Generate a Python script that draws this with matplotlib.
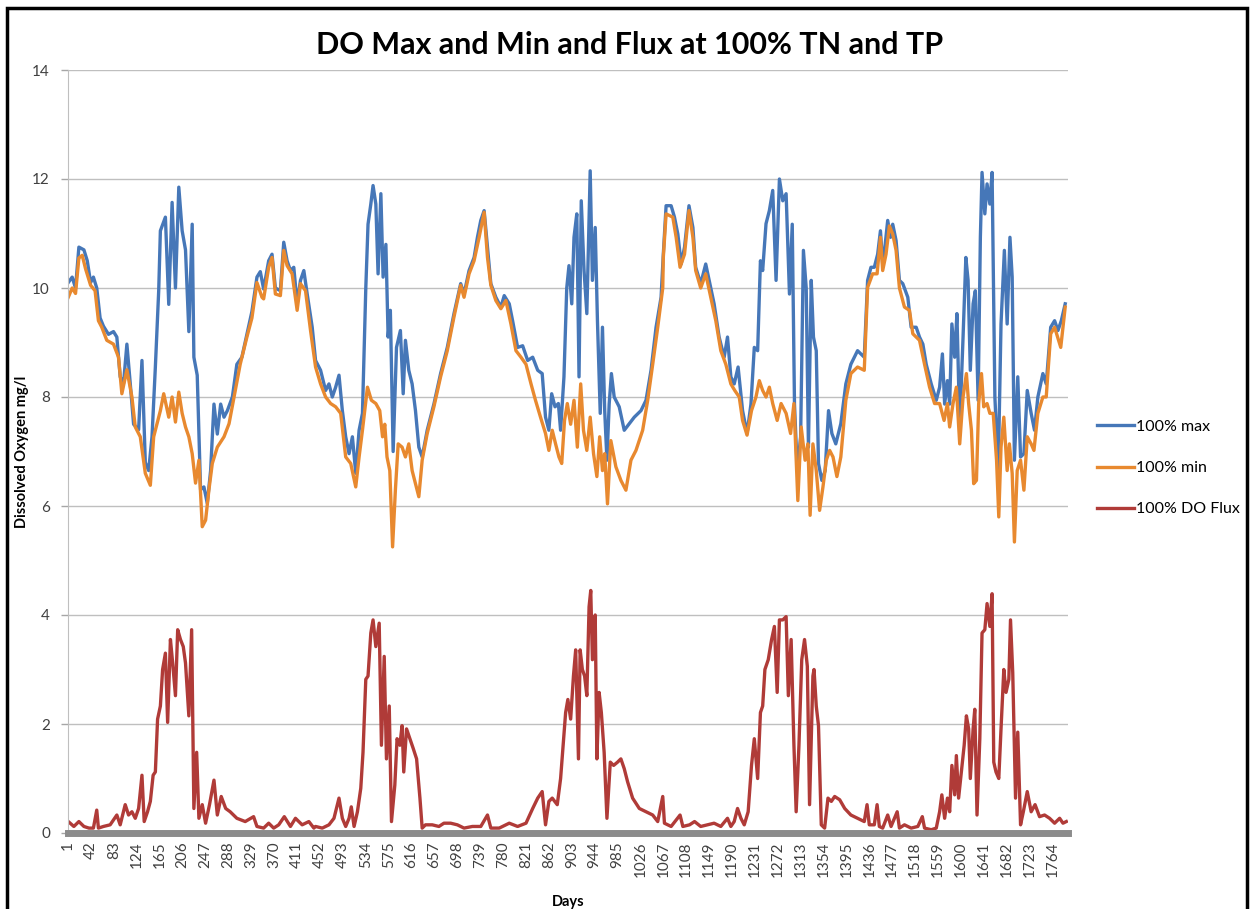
import matplotlib
matplotlib.use('Agg')
import matplotlib.pyplot as plt
from matplotlib.patches import Rectangle

# values (day, mg/l)
max_days = [1,8,14,20,29,35,41,46,52,58,64,73,82,88,94,100,106,112,118,127,133,139,145,151,157,163,166,175,181,187,193,199,205,211,217,223,226,232,238,244,250,256,262,268,274,280,286,295,303,312,321,330,339,345,
            351,360,366,372,381,387,393,399,405,411,417,423,429,438,444,453,462,468,474,480,486,492,498,504,510,516,522,528,534,538,543,547,552,556,561,565,570,574,578,583,589,596,601,605,611,617,623,629,635,644,656,668,680,692,704,
            710,719,728,734,740,746,752,758,767,776,782,791,797,806,815,824,833,842,850,856,862,867,873,879,883,889,894,898,903,907,912,916,920,925,930,936,940,945,949,954,958,962,966,970,974,979,988,997,1006,1015,1027,1036,1045,1054,1063,
            1067,1072,1081,1087,1093,1099,1105,1113,1120,1125,1134,1143,1152,1158,1167,1176,1182,1188,1194,1201,1209,1217,1224,1230,1236,1241,1245,1251,1257,1263,1269,1275,1281,1287,1293,1298,1302,1307,1313,1318,1323,1327,1332,1336,1341,1345,1351,1357,1363,1369,1376,1385,1394,1403,1415,1421,
            1427,1433,1439,1445,1451,1456,1460,1464,1469,1474,1478,1484,1490,1496,1505,1511,1520,1526,1532,1538,1547,1556,1562,1567,1571,1576,1580,1584,1589,1593,1598,1604,1609,1613,1617,1622,1626,1631,1635,1638,1643,1647,1652,1656,1661,1667,1672,1678,1683,1688,1692,1696,1702,1707,1713,1719,1726,1732,1738,1747,1753,1761,1768,1774,1780,1787]
max_vals = [10.1,10.2,10.0,10.75,10.7,10.5,10.1,10.2,10.0,9.45,9.3,9.15,9.2,9.1,8.37,8.25,8.97,8.25,7.5,7.4,8.67,6.8,6.65,7.27,8.55,9.95,11.05,11.3,9.7,11.57,10.0,11.85,11.05,10.7,9.2,11.17,8.73,8.4,6.3,6.35,6.05,6.65,7.87,7.32,7.87,7.63,7.75,8.0,8.6,8.73,9.15,9.57,10.2,10.3,
            9.98,10.5,10.62,10.0,9.95,10.84,10.5,10.32,10.38,9.71,10.14,10.32,9.89,9.28,8.67,8.49,8.12,8.24,8.0,8.18,8.4,7.75,7.27,6.96,7.27,6.6,7.39,7.7,10.0,11.17,11.54,11.88,11.54,10.26,11.73,10.2,10.8,9.1,9.59,7.0,8.91,9.22,8.06,9.04,8.49,8.24,7.75,7.08,6.9,7.39,7.87,8.43,8.91,9.53,10.08,
            9.89,10.32,10.56,10.93,11.24,11.42,10.75,10.08,9.83,9.65,9.86,9.71,9.4,8.91,8.94,8.67,8.73,8.49,8.43,7.63,7.39,8.06,7.82,7.88,7.39,8.37,10.0,10.41,9.71,10.93,11.36,8.37,11.6,10.32,9.53,12.15,10.14,11.11,9.4,7.7,9.28,7.75,6.84,7.87,8.43,8.0,7.82,7.39,7.51,7.63,7.75,7.94,8.49,9.28,9.83,
            10.62,11.51,11.51,11.3,10.99,10.44,10.75,11.51,11.11,10.38,10.08,10.44,10.0,9.71,9.1,8.73,9.1,8.37,8.24,8.55,7.75,7.33,7.87,8.91,8.85,10.5,10.32,11.18,11.42,11.79,10.14,12.0,11.6,11.73,9.89,11.17,7.87,6.65,7.27,10.69,10.0,7.08,10.14,9.1,8.85,6.78,6.47,6.65,7.75,7.33,7.14,7.51,8.24,8.6,8.85,8.79,
            8.73,10.14,10.38,10.38,10.62,11.05,10.44,10.75,11.24,10.93,11.17,10.87,10.14,10.08,9.83,9.28,9.28,9.1,8.97,8.6,8.24,7.94,8.18,8.79,7.87,8.3,7.87,9.34,8.73,9.53,7.45,9.1,10.56,10.14,8.49,9.71,9.95,7.94,10.93,12.12,11.36,11.91,11.54,12.12,8.0,6.65,9.34,10.69,9.34,10.93,10.2,6.84,8.37,6.9,6.96,8.12,7.7,7.39,8.0,8.43,8.24,9.28,9.4,9.22,9.4,9.71]

min_days = [1,8,14,20,26,32,41,49,55,61,70,82,91,97,106,115,121,130,139,148,154,166,172,181,187,193,199,205,211,217,223,229,235,241,247,253,259,268,280,289,298,309,321,330,339,348,
            351,360,366,372,381,387,393,402,411,417,426,435,444,453,462,471,480,489,498,507,516,522,528,537,544,552,559,564,568,572,577,582,587,592,599,605,611,617,623,629,635,644,656,668,680,692,704,
            710,719,728,737,746,752,758,767,776,785,794,803,812,821,830,838,847,856,862,868,874,880,885,890,895,901,907,913,919,924,930,936,942,948,953,958,962,967,973,982,991,1000,1009,1018,1030,1039,1048,1057,1066,
            1067,1072,1084,1090,1097,1105,1113,1120,1125,1134,1143,1152,1161,1170,1179,1188,1195,1203,1209,1217,1225,1233,1239,1245,1251,1257,1263,1271,1278,1287,1295,1301,1308,1314,1321,1326,1330,1335,1341,1347,1353,1359,1365,1371,1378,1385,1394,1403,1415,
            1427,1433,1442,1450,1456,1460,1466,1472,1478,1484,1490,1499,1508,1514,1526,1535,1544,1553,1562,1570,1576,1580,1586,1592,1598,1604,1610,1614,1619,1623,1628,1632,1637,1641,1647,1652,1658,1664,1668,1672,1677,1683,1687,1692,1696,1701,1707,1713,1719,1726,1731,1738,1747,1753,1761,1768,1779,1787]
min_vals = [9.83,10.0,9.9,10.55,10.6,10.35,10.05,9.95,9.4,9.28,9.04,8.97,8.73,8.06,8.5,8.0,7.45,7.27,6.6,6.38,7.27,7.75,8.06,7.63,8.0,7.54,8.09,7.7,7.45,7.27,6.96,6.42,6.84,5.62,5.74,6.3,6.78,7.08,7.27,7.51,8.0,8.6,9.1,9.45,10.1,9.83,
            9.8,10.38,10.56,9.89,9.86,10.69,10.41,10.26,9.59,10.08,9.95,9.22,8.55,8.24,8.0,7.88,7.82,7.7,6.9,6.78,6.35,6.9,7.39,8.18,7.94,7.88,7.75,7.27,7.5,6.9,6.65,5.25,6.29,7.14,7.08,6.9,7.14,6.65,6.41,6.17,6.84,7.33,7.82,8.37,8.85,9.47,10.05,
            9.83,10.26,10.5,10.93,11.39,10.56,10.05,9.77,9.62,9.77,9.34,8.85,8.73,8.6,8.24,7.94,7.63,7.33,7.02,7.39,7.14,6.9,6.78,7.57,7.88,7.5,7.94,7.08,8.24,7.39,7.02,7.63,6.96,6.54,7.27,6.65,6.96,6.04,7.2,6.72,6.47,6.29,6.84,7.02,7.39,7.94,8.6,9.28,10.0,
            10.56,11.36,11.3,10.93,10.38,10.62,11.42,10.93,10.32,10.0,10.26,9.83,9.4,8.85,8.6,8.24,8.12,8.0,7.57,7.3,7.75,8.0,8.3,8.12,8.0,8.18,7.88,7.57,7.88,7.7,7.33,7.88,6.1,7.45,6.84,7.14,5.83,7.14,6.65,5.92,6.35,6.84,7.02,6.9,6.54,6.9,7.94,8.43,8.55,
            8.49,10.01,10.26,10.26,10.93,10.32,10.62,11.14,10.99,10.69,10.0,9.65,9.59,9.16,9.04,8.6,8.18,7.88,7.88,7.57,7.88,7.45,7.88,8.18,7.14,8.0,8.43,7.88,7.39,6.41,6.47,7.88,8.43,7.82,7.88,7.7,7.7,6.84,5.8,7.08,7.63,6.65,7.14,6.6,5.34,6.65,6.84,6.29,7.27,7.14,7.02,7.7,8.0,8.0,9.16,9.28,8.91,9.65]

flux_days = [1,11,20,29,38,46,52,55,64,76,88,94,103,109,115,121,127,133,137,143,148,153,157,161,166,170,175,179,184,188,193,197,202,207,211,217,222,226,231,235,241,247,254,262,268,275,283,291,303,318,333,339,351,360,369,378,388,399,408,420,432,441,
             444,456,468,477,486,492,498,504,508,513,519,525,529,534,538,543,547,552,558,562,567,571,576,580,586,590,595,599,602,607,613,619,625,631,635,641,653,665,674,686,698,710,725,740,752,758,773,791,806,821,833,842,850,856,862,868,877,883,
             892,896,901,906,910,915,918,922,926,930,934,937,940,945,948,952,956,961,966,972,978,985,991,997,1003,1012,1024,1036,1048,1057,1066,1069,1081,1097,1102,1114,1123,1134,1146,1158,1170,1182,1188,1194,1200,1206,1212,1219,1225,1230,1236,1241,1245,1249,1255,1261,1266,1271,1275,1281,1287,1291,1296,1301,1305,1310,1315,1320,1325,1329,1335,
             1337,1341,1345,1350,1356,1362,1368,1374,1383,1392,1403,1415,1427,1432,1436,1445,1450,1454,1460,1469,1475,1486,1490,1499,1511,1523,1531,1535,1547,1556,1562,1566,1571,1576,1580,1584,1589,1592,1596,1601,1606,1610,1614,1617,1622,1625,1629,1634,1638,1643,1647,1652,1656,1659,1663,1668,1672,1677,1681,1686,1689,1693,1698,1702,1707,1712,1719,1726,1733,1741,1750,1759,1768,1777,1783,1789]
flux_vals = [0.21,0.12,0.21,0.12,0.09,0.09,0.42,0.09,0.12,0.15,0.33,0.15,0.52,0.33,0.39,0.27,0.45,1.06,0.21,0.39,0.58,1.06,1.12,2.09,2.33,3.0,3.3,2.03,3.55,3.12,2.52,3.73,3.55,3.42,3.12,2.15,3.73,0.45,1.48,0.27,0.52,0.18,0.52,0.97,0.33,0.67,0.45,0.39,0.27,0.21,0.3,0.12,0.09,0.18,0.09,0.15,0.3,0.12,0.27,0.15,0.21,0.09,
             0.12,0.09,0.15,0.27,0.64,0.27,0.12,0.27,0.48,0.12,0.39,0.82,1.48,2.82,2.88,3.67,3.91,3.42,3.85,1.61,3.24,1.36,2.33,0.21,0.88,1.73,1.61,1.97,1.12,1.91,1.73,1.55,1.36,0.64,0.09,0.15,0.15,0.12,0.18,0.18,0.15,0.09,0.12,0.12,0.33,0.09,0.09,0.18,0.12,0.18,0.45,0.64,0.76,0.15,0.58,0.64,0.52,1.0,
             2.21,2.45,2.09,2.88,3.36,1.36,3.36,3.0,2.88,2.52,4.15,4.45,3.18,4.0,1.36,2.58,2.21,1.48,0.27,1.3,1.24,1.3,1.36,1.18,0.94,0.64,0.45,0.39,0.33,0.21,0.67,0.18,0.12,0.33,0.12,0.15,0.21,0.12,0.15,0.18,0.12,0.27,0.12,0.21,0.45,0.27,0.15,0.39,1.24,1.73,1.0,2.21,2.33,3.0,3.18,3.55,3.79,2.58,3.91,3.91,3.97,2.52,3.55,1.61,0.39,1.61,3.18,3.55,3.06,0.52,2.88,
             3.0,2.33,1.97,0.15,0.09,0.64,0.58,0.67,0.61,0.45,0.33,0.27,0.21,0.52,0.15,0.15,0.52,0.12,0.09,0.33,0.12,0.39,0.09,0.15,0.09,0.12,0.3,0.09,0.06,0.09,0.39,0.7,0.27,0.64,0.39,1.24,0.7,1.42,0.64,1.12,1.61,2.15,1.91,1.0,1.91,2.27,0.33,1.73,3.67,3.73,4.21,3.79,4.39,1.3,1.12,1.0,1.91,3.0,2.58,2.82,3.91,2.94,0.64,1.85,0.15,0.39,0.76,0.39,0.52,0.3,0.33,0.27,0.18,0.27,0.18,0.21]

tick_days = list(range(1, 1765, 41))
y_ticks = [0, 2, 4, 6, 8, 10, 12, 14]

plt.rcParams['font.family'] = ['Lato', 'DejaVu Sans']

fig = plt.figure(figsize=(12.52, 9.09), dpi=100)
ax = fig.add_axes([68/1252, 1-833/909, 1000/1252, (833-70)/909])

ax.plot(max_days, max_vals, color='#4677b8', lw=2.4, label='100% max', solid_joinstyle='round')
ax.plot(min_days, min_vals, color='#e8892f', lw=2.4, label='100% min', solid_joinstyle='round')
ax.plot(flux_days, flux_vals, color='#b03b38', lw=2.4, label='100% DO Flux', solid_joinstyle='round')

ax.set_xlim(0.5, 1792)
ax.set_ylim(0, 14)
ax.set_yticks(y_ticks)
ax.set_xticks(tick_days)
ax.set_xticklabels([str(d) for d in tick_days], rotation=90, fontsize=11, color='#404040')
ax.tick_params(axis='y', labelsize=11, colors='#404040', length=5, width=1, pad=8)
ax.tick_params(axis='y', color='#a6a6a6')
ax.tick_params(axis='x', length=0, pad=6)
ax.grid(axis='y', color='#bfbfbf', lw=1)
ax.set_axisbelow(True)
for s in ['top', 'right']:
    ax.spines[s].set_visible(False)
ax.spines['left'].set_color('#bfbfbf')
ax.spines['bottom'].set_color('#8c8c8c')
ax.spines['bottom'].set_linewidth(5)

ax.set_ylabel('Dissolved Oxygen mg/l', fontsize=10.5, fontweight='bold')
ax.yaxis.set_label_coords(-0.039, 0.5)
ax.set_xlabel('Days', fontsize=10.5, fontweight='bold', labelpad=13)
fig.text(630/1252, 1-45/909, 'DO Max and Min and Flux at 100% TN and TP',
         ha='center', va='center', fontsize=22, fontweight='bold')

fig.legend(loc='center left', bbox_to_anchor=(1083/1252, 1-468/909), frameon=False,
           fontsize=11.5, handlelength=2.3, labelspacing=1.7, handletextpad=0.1)

fig.patches.append(Rectangle((7/1252, -0.05), 1240/1252, 1.05-8/909, transform=fig.transFigure,
                             fill=False, edgecolor='black', lw=2.5))

fig.savefig('out.png', dpi=100)
